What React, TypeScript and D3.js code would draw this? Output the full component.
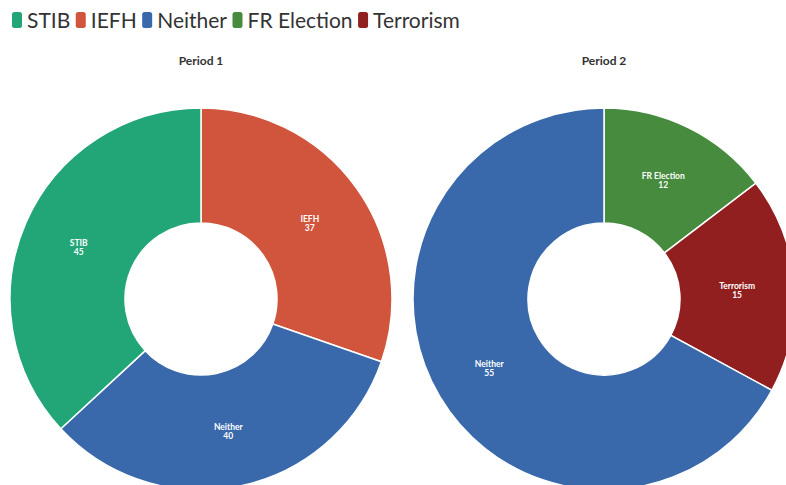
import { useEffect, useRef } from "react";
import * as d3 from "d3";

// ── Data ─────────────────────────────────────────────────────────────────────

const LEGEND = ["STIB", "IEFH", "Neither", "FR Election", "Terrorism"];
const COLORS: Record<string, string> = {
  "STIB":        "#22a678",
  "IEFH":        "#d0553c",
  "Neither":     "#3969ab",
  "FR Election": "#468b3e",
  "Terrorism":   "#921f1f",
};

const P1_LABELS = ["IEFH", "Neither", "STIB"];
const P1_VALUES = [37, 40, 45];
const P2_LABELS = ["FR Election", "Terrorism", "Neither"];
const P2_VALUES = [12, 15, 55];

const FONT = "Lato, 'Open Sans', sans-serif";
const FG = "#333";

export default function App() {
  const svgRef = useRef<SVGSVGElement>(null);

  useEffect(() => {
    if (!svgRef.current) return;
    const W = 786, H = 485;
    const svg = d3.select(svgRef.current);
    svg.selectAll("*").remove();
    svg.attr("viewBox", `0 0 ${W} ${H}`);

    // Legend
    const lg = svg.append("g");
    let cx = 12;
    LEGEND.forEach(name => {
      lg.append("rect")
        .attr("x", cx).attr("y", 12).attr("width", 10).attr("height", 16)
        .attr("rx", 2.5).attr("fill", COLORS[name]);
      const t = lg.append("text")
        .attr("x", cx + 15).attr("y", 28)
        .attr("font-family", FONT).attr("font-size", "21px")
        .attr("fill", FG).text(name);
      const w = (t.node() as SVGTextElement).getComputedTextLength();
      cx += 15 + w + 5.5;
    });

    const R = 191, r = 76;
    const pie = d3.pie<number>().sort(null);
    const arc = d3.arc<d3.PieArcDatum<number>>().innerRadius(r).outerRadius(R);

    const panels = [
      { title: "Period 1", labels: P1_LABELS, values: P1_VALUES, x: 201, y: 299 },
      { title: "Period 2", labels: P2_LABELS, values: P2_VALUES, x: 604, y: 299 },
    ];

    panels.forEach(p => {
      svg.append("text")
        .attr("x", p.x).attr("y", 65)
        .attr("text-anchor", "middle")
        .attr("font-family", FONT).attr("font-weight", 700)
        .attr("font-size", "12px").attr("fill", FG)
        .text(p.title);

      const g = svg.append("g").attr("transform", `translate(${p.x},${p.y})`);
      const arcs = pie(p.values);

      g.selectAll("path")
        .data(arcs)
        .join("path")
        .attr("d", arc)
        .attr("fill", d => COLORS[p.labels[d.index]])
        .attr("stroke", "#fff")
        .attr("stroke-width", 1.5);

      const lbl = g.selectAll("text.lbl")
        .data(arcs)
        .join("text")
        .attr("class", "lbl")
        .attr("transform", d => `translate(${arc.centroid(d)})`)
        .attr("text-anchor", "middle")
        .attr("font-family", FONT).attr("font-weight", 700)
        .attr("font-size", "8.5px").attr("fill", "#fff");
      lbl.append("tspan").attr("x", 0).attr("y", 0).text(d => p.labels[d.index]);
      lbl.append("tspan").attr("x", 0).attr("y", 9).text(d => String(d.data));
    });
  }, []);

  return (
    <svg
      ref={svgRef}
      width={786}
      height={485}
      style={{ position: "absolute", left: 0, top: 0, background: "#fff" }}
    />
  );
}
